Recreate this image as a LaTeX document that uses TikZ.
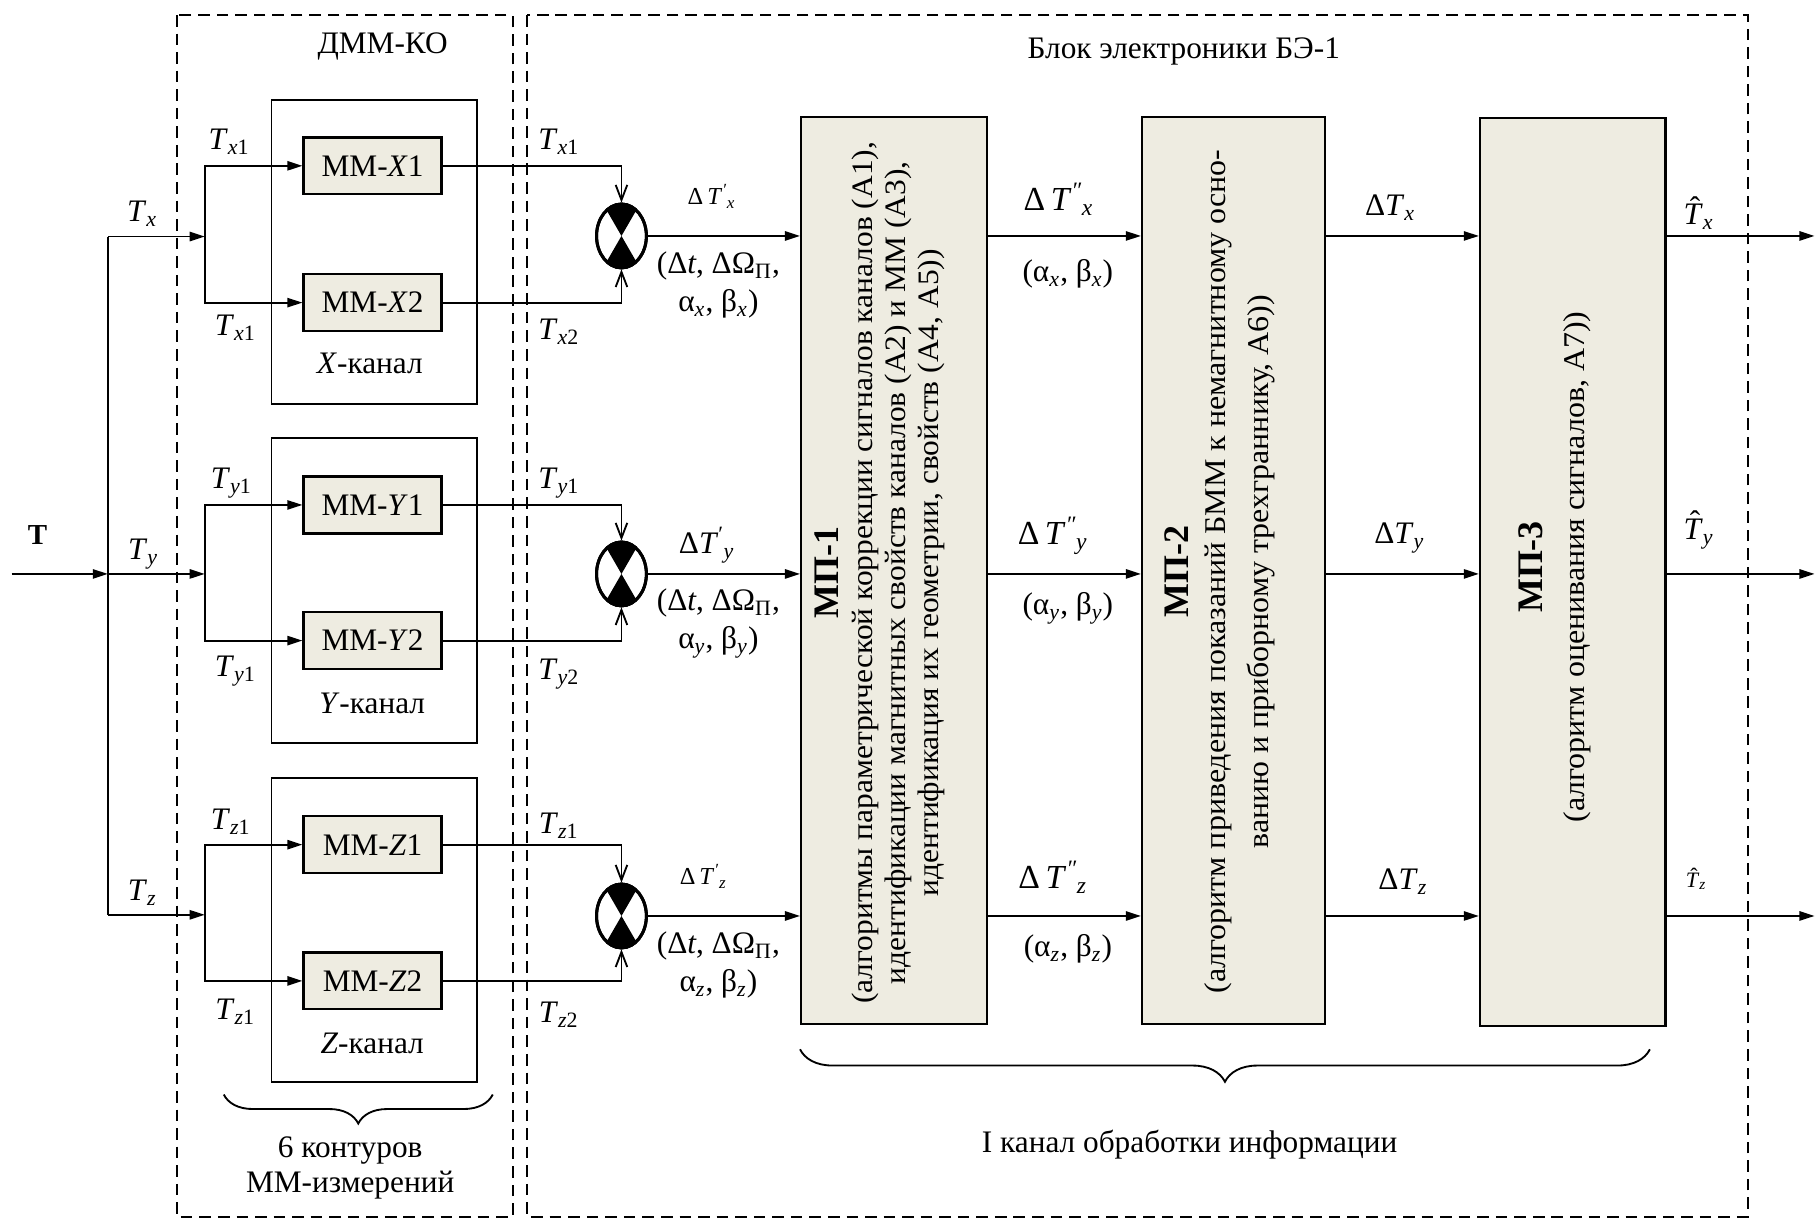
\documentclass[tikz,border=0pt]{standalone}
\usepackage{graphicx}
\usepackage{fontspec}
\setmainfont{Liberation Serif}
\usetikzlibrary{arrows.meta,shapes.geometric,decorations.pathreplacing}
\definecolor{blockfill}{HTML}{EEECE1}

% text helpers
\newcommand{\mainsize}{\fontsize{13.5}{15.5}\selectfont}
\newcommand{\Tsub}[1]{\textit{T}\textsubscript{#1}}
\newcommand{\SupSub}[2]{\textsuperscript{#1}\kern-0.02em\textsubscript{#2}}
\newcommand{\That}{\leavevmode\rlap{\kern0.2em\raisebox{0.2em}{ˆ}}\textit{T}}
\newcommand{\wideline}[1]{\scalebox{1.06}[1]{#1}}

\begin{document}
\begin{tikzpicture}[x=0.5pt,y=-0.5pt,
  every node/.style={font=\mainsize, inner sep=0pt},
  conn/.style={line width=0.8pt},
  tri/.style={conn,-{Triangle[length=6.5pt,width=4pt]}},
  barb/.style={conn,-{Straight Barb[length=6.5pt,width=5pt]}},
  mmbox/.style={draw, line width=1pt, fill=blockfill, minimum width=59.5pt, minimum height=24.5pt},
  mpbox/.style={draw, line width=1pt, fill=blockfill, minimum width=80pt, minimum height=391pt},
  chanbox/.style={draw, line width=0.8pt},
  dashedbox/.style={draw, line width=1pt, dash pattern=on 5pt off 3pt},
  cmp/.style={ellipse, draw, line width=1.3pt, fill=white, minimum width=21.5pt, minimum height=27.5pt},
  brace/.style={decorate, line width=0.8pt, decoration={brace, amplitude=#1}},
  vtext/.style={rotate=90, align=center}
]
\useasboundingbox (0,0) rectangle (1568,1051);

% outer dashed frames
\draw[dashedbox] (152.4,13) rectangle (442.2,1049.4);
\draw[dashedbox] (454.5,13) rectangle (1507.4,1049.4);
\node (dmm) at (330,40) {ДММ-КО};
\node (be1) at (1021,44) {Блок электроники БЭ-1};

% channel frames
\draw[chanbox] (234.2,86.3) rectangle (411.5,348.6);
\draw[chanbox] (234.2,378) rectangle (411.5,641);
\draw[chanbox] (234.2,671) rectangle (411.5,933.5);
\node (kx) at (319,313) {\textit{X}-канал};
\node (ky) at (321,607) {\textit{Y}-канал};
\node (kz) at (321,900) {\textit{Z}-канал};

% magnetometer blocks
\node[mmbox] (mmx1) at (321.3,143) {ММ-\textit{X}1};
\node[mmbox] (mmx2) at (321.3,261) {ММ-\textit{X}2};
\node[mmbox] (mmy1) at (321.3,435.5) {ММ-\textit{Y}1};
\node[mmbox] (mmy2) at (321.3,552.5) {ММ-\textit{Y}2};
\node[mmbox] (mmz1) at (321.3,728.5) {ММ-\textit{Z}1};
\node[mmbox] (mmz2) at (321.3,846) {ММ-\textit{Z}2};

% input distribution
\coordinate (tin) at (10,495);
\coordinate (bx) at (93,204);
\coordinate (by) at (93,495);
\coordinate (bz) at (93,789);
\coordinate (fx) at (176.6,204);
\coordinate (fy) at (176.6,495);
\coordinate (fz) at (176.6,789);
\node (tlab) at (32.4,461.5) {\fontsize{12.5}{14}\selectfont\textbf{T}};
\draw[tri] (tin) -- (by);
\draw[conn] (bx) -- (bz);
\draw[tri] (bx) -- (fx);
\draw[tri] (by) -- (fy);
\draw[tri] (bz) -- (fz);
\draw[tri] (fx) |- (mmx1.west);
\draw[tri] (fx) |- (mmx2.west);
\draw[tri] (fy) |- (mmy1.west);
\draw[tri] (fy) |- (mmy2.west);
\draw[tri] (fz) |- (mmz1.west);
\draw[tri] (fz) |- (mmz2.west);
\node (ltx) at (122.7,184) {\Tsub{\textit{x}}};
\node (lty) at (123.5,478) {\Tsub{\textit{y}}};
\node (ltz) at (122.7,770) {\Tsub{\textit{z}}};
\node (ltx1a) at (197.7,122) {\Tsub{\textit{x}1}};
\node (ltx1b) at (203,283) {\Tsub{\textit{x}1}};
\node (lty1a) at (199.6,417) {\Tsub{\textit{y}1}};
\node (lty1b) at (203,579) {\Tsub{\textit{y}1}};
\node (ltz1a) at (199,709) {\Tsub{\textit{z}1}};
\node (ltz1b) at (203,873) {\Tsub{\textit{z}1}};

% comparators
\foreach \n/\yy in {cx/203.5, cy/495, cz/790}{
  \node[cmp] (\n) at (536,\yy) {};
  \fill (\n.center) -- (\n.60) -- (\n.70) -- (\n.80) -- (\n.90) -- (\n.100) -- (\n.110) -- (\n.120) -- cycle;
  \fill (\n.center) -- (\n.240) -- (\n.250) -- (\n.260) -- (\n.270) -- (\n.280) -- (\n.290) -- (\n.300) -- cycle;
  \draw[line width=1.3pt] (\n.center) ellipse [x radius=10.75pt, y radius=13.75pt];
}
\draw[barb] (mmx1.east) -| (cx.north);
\draw[barb] (mmx2.east) -| (cx.south);
\draw[barb] (mmy1.east) -| (cy.north);
\draw[barb] (mmy2.east) -| (cy.south);
\draw[barb] (mmz1.east) -| (cz.north);
\draw[barb] (mmz2.east) -| (cz.south);
\node (rtx1) at (482,122) {\Tsub{\textit{x}1}};
\node (rtx2) at (482,286) {\Tsub{\textit{x}2}};
\node (rty1) at (482,417) {\Tsub{\textit{y}1}};
\node (rty2) at (482,581) {\Tsub{\textit{y}2}};
\node (rtz1) at (482,712) {\Tsub{\textit{z}1}};
\node (rtz2) at (482,875) {\Tsub{\textit{z}2}};

% processing modules
\node[mpbox] (mp1) at (771,492) {};
\node[mpbox, minimum width=79pt] (mp2) at (1064,492) {};
\node[mpbox, minimum height=391.5pt] (mp3) at (1356.5,493.5) {};

\node[vtext, font=\fontsize{12.8}{14.4}\selectfont] (mp1t) at (759,494)
  {{\fontsize{15.5}{16}\selectfont\bfseries МП-1}\\
   \wideline{(алгоритмы параметрической коррекции сигналов каналов (А1),}\\
   \wideline{идентификации магнитных свойств каналов (А2) и ММ (А3),}\\
   \wideline{идентификация их геометрии, свойств (А4, А5))}};
\node[vtext, font=\fontsize{13}{18.5}\selectfont] (mp2t) at (1052,493)
  {{\fontsize{15.5}{16}\selectfont\bfseries МП-2}\\[-2.8pt]
   \wideline{(алгоритм приведения показаний БММ к немагнитному осно-}\\
   \wideline{ванию и приборному трехграннику, А6))}};
\node[vtext, font=\fontsize{13}{18}\selectfont] (mp3t) at (1341,489)
  {{\fontsize{15.5}{16}\selectfont\bfseries МП-3}\\
   \wideline{(алгоритм оценивания сигналов, А7))}};

% comparator outputs into MP-1
\draw[tri] (cx.east) -- (cx.east -| mp1.west);
\draw[tri] (cy.east) -- (cy.east -| mp1.west);
\draw[tri] (cz.east) -- (cz.east -| mp1.west);
\node (dtx1) at (613.8,169.6) {\fontsize{10.5}{12}\selectfont Δ\,\textit{T}\SupSub{\textit{′}}{\textit{x}}};
\node (dty1) at (609.5,470) {Δ\textit{T}\SupSub{′}{\textit{y}}};
\node (dtz1) at (606.6,756) {\fontsize{10.5}{12}\selectfont Δ\,\textit{T}\SupSub{\textit{′}}{\textit{z}}};
\node[align=center, font=\fontsize{13.5}{16.5}\selectfont] (px) at (619.6,245.5) {(Δ\textit{t}, ΔΩ\textsubscript{П},\\ α\textsubscript{\textit{x}}, β\textsubscript{\textit{x}})};
\node[align=center, font=\fontsize{13.5}{16.5}\selectfont] (py) at (619.6,537.5) {(Δ\textit{t}, ΔΩ\textsubscript{П},\\ α\textsubscript{\textit{y}}, β\textsubscript{\textit{y}})};
\node[align=center, font=\fontsize{13.5}{16.5}\selectfont] (pz) at (619.6,832) {(Δ\textit{t}, ΔΩ\textsubscript{П},\\ α\textsubscript{\textit{z}}, β\textsubscript{\textit{z}})};

% MP-1 -> MP-2
\draw[tri] (mp1.east |- cx) -- (mp2.west |- cx);
\draw[tri] (mp1.east |- cy) -- (mp2.west |- cy);
\draw[tri] (mp1.east |- cz) -- (mp2.west |- cz);
\node (dtx2) at (913,172) {\fontsize{14.5}{16}\selectfont Δ\,\textit{T}\SupSub{\textit{″}}{\textit{x}}};
\node (dty2) at (908,462) {\fontsize{14.5}{16}\selectfont Δ\,\textit{T}\SupSub{\textit{″}}{\textit{y}}};
\node (dtz2) at (908,757) {\fontsize{14.5}{16}\selectfont Δ\,\textit{T}\SupSub{\textit{″}}{\textit{z}}};
\node (abx) at (921,236) {(α\textsubscript{\textit{x}}, β\textsubscript{\textit{x}})};
\node (aby) at (921,525) {(α\textsubscript{\textit{y}}, β\textsubscript{\textit{y}})};
\node (abz) at (921,818) {(α\textsubscript{\textit{z}}, β\textsubscript{\textit{z}})};

% MP-2 -> MP-3
\draw[tri] (mp2.east |- cx) -- (mp3.west |- cx);
\draw[tri] (mp2.east |- cy) -- (mp3.west |- cy);
\draw[tri] (mp2.east |- cz) -- (mp3.west |- cz);
\node (dtx3) at (1199,179) {Δ\Tsub{\textit{x}}};
\node (dty3) at (1207,464) {Δ\Tsub{\textit{y}}};
\node (dtz3) at (1210,760) {Δ\Tsub{\textit{z}}};

% outputs
\coordinate (ox) at (1565,203.5);
\coordinate (oy) at (1565,495);
\coordinate (oz) at (1565,790);
\draw[tri] (mp3.east |- cx) -- (ox);
\draw[tri] (mp3.east |- cy) -- (oy);
\draw[tri] (mp3.east |- cz) -- (oz);
\node (thx) at (1465,184) {\That\textsubscript{\textit{x}}};
\node (thy) at (1465,457) {\That\textsubscript{\textit{y}}};
\node (thz) at (1463,758) {\fontsize{9.5}{11}\selectfont\That\textsubscript{\textit{z}}};

% braces and captions
\coordinate (b1l) at (193,944);
\coordinate (b1r) at (425,944);
\draw[brace=12.5pt] (b1r) -- (b1l);
\node[align=center, font=\fontsize{13.5}{15}\selectfont] (cnt) at (302,1007) {6 контуров\\ММ-измерений};
\coordinate (b2l) at (690,905);
\coordinate (b2r) at (1423,905);
\draw[brace=14pt] (b2r) -- (b2l);
\node (ch1) at (1026,987) {I канал обработки информации};
\end{tikzpicture}
\end{document}
